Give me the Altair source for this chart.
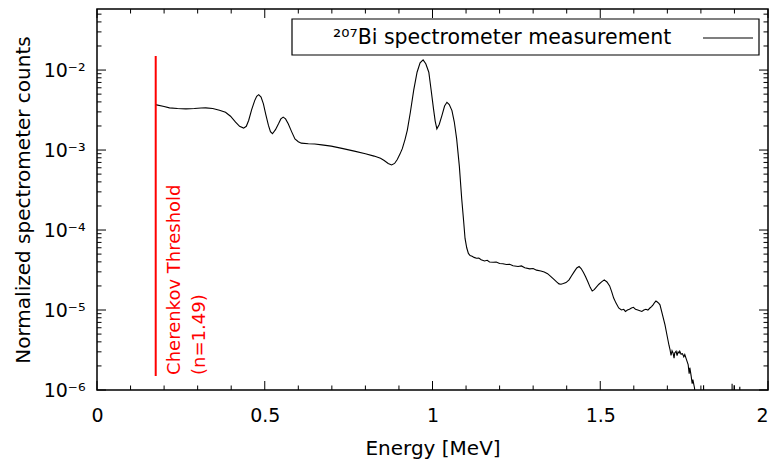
import altair as alt
import pandas as pd

# ---- spectrum ----
energy = [
    0.174, 0.200, 0.216, 0.240, 0.265, 0.290, 0.310, 0.324, 0.345, 0.365,
    0.383, 0.398, 0.413, 0.425, 0.437, 0.445, 0.452, 0.461, 0.470, 0.476,
    0.482, 0.489, 0.496, 0.503, 0.511, 0.517, 0.523, 0.532, 0.541, 0.548,
    0.555, 0.562, 0.570, 0.580, 0.590, 0.600, 0.609, 0.630, 0.649, 0.670,
    0.698, 0.730, 0.767, 0.800, 0.826, 0.845, 0.856, 0.868, 0.878, 0.887,
    0.895, 0.903, 0.910, 0.918, 0.925, 0.934, 0.944, 0.954, 0.963, 0.972,
    0.980, 0.989, 0.996, 1.003, 1.008, 1.013, 1.020, 1.028, 1.036, 1.043,
    1.050, 1.058, 1.065, 1.072, 1.080, 1.087, 1.093, 1.097, 1.102, 1.107,
    1.112, 1.118, 1.124, 1.131, 1.138, 1.145, 1.155, 1.163, 1.170, 1.181,
    1.190, 1.200, 1.210, 1.220, 1.230, 1.240, 1.255, 1.265, 1.275, 1.290,
    1.300, 1.310, 1.323, 1.333, 1.343, 1.353, 1.362, 1.370, 1.377, 1.383,
    1.390, 1.398, 1.407, 1.415, 1.422, 1.430, 1.437, 1.443, 1.450, 1.456,
    1.463, 1.470, 1.476, 1.482, 1.489, 1.496, 1.504, 1.512, 1.520, 1.528,
    1.534, 1.540, 1.547, 1.555, 1.563, 1.570, 1.575, 1.581, 1.587, 1.593,
    1.599, 1.605, 1.612, 1.618, 1.624, 1.630, 1.636, 1.642, 1.648, 1.653,
    1.658, 1.662, 1.666, 1.670, 1.674, 1.678, 1.685, 1.693, 1.700, 1.705,
    1.708, 1.711, 1.714, 1.717, 1.720, 1.722, 1.726, 1.729, 1.732, 1.735,
    1.737, 1.741, 1.745, 1.749, 1.752, 1.757, 1.762, 1.765, 1.767, 1.771,
    1.774, 1.776, 1.781, 1.786, 1.800, 1.806, 1.808, 1.810, 1.891, 1.893,
    1.895, 1.899, 1.901, 1.916, 1.918, 2.000,
]
counts = [
    3.70e-3, 3.50e-3, 3.37e-3, 3.30e-3, 3.27e-3, 3.30e-3, 3.35e-3, 3.37e-3, 3.30e-3, 3.15e-3,
    2.97e-3, 2.65e-3, 2.23e-3, 1.98e-3, 1.88e-3, 1.98e-3, 2.34e-3, 3.20e-3, 4.15e-3, 4.70e-3,
    4.93e-3, 4.60e-3, 3.78e-3, 2.80e-3, 2.03e-3, 1.70e-3, 1.60e-3, 1.80e-3, 2.13e-3, 2.45e-3,
    2.58e-3, 2.45e-3, 2.13e-3, 1.70e-3, 1.38e-3, 1.27e-3, 1.22e-3, 1.20e-3, 1.19e-3, 1.16e-3,
    1.12e-3, 1.05e-3, 9.70e-4, 9.00e-4, 8.40e-4, 7.90e-4, 7.40e-4, 6.80e-4, 6.50e-4, 6.80e-4,
    7.60e-4, 8.90e-4, 1.04e-3, 1.35e-3, 1.78e-3, 2.97e-3, 5.60e-3, 9.40e-3, 1.23e-2, 1.34e-2,
    1.20e-2, 9.40e-3, 5.60e-3, 3.27e-3, 2.30e-3, 1.84e-3, 2.09e-3, 2.70e-3, 3.55e-3, 3.95e-3,
    3.70e-3, 3.11e-3, 2.24e-3, 1.38e-3, 6.30e-4, 2.48e-4, 1.26e-4, 7.85e-5, 6.00e-5, 5.10e-5,
    4.80e-5, 4.70e-5, 4.55e-5, 4.43e-5, 4.45e-5, 4.25e-5, 4.10e-5, 4.18e-5, 3.98e-5, 3.95e-5,
    3.99e-5, 3.82e-5, 3.78e-5, 3.70e-5, 3.74e-5, 3.58e-5, 3.50e-5, 3.56e-5, 3.38e-5, 3.27e-5,
    3.30e-5, 3.15e-5, 3.08e-5, 2.98e-5, 2.85e-5, 2.62e-5, 2.42e-5, 2.25e-5, 2.12e-5, 2.10e-5,
    2.14e-5, 2.20e-5, 2.38e-5, 2.70e-5, 3.00e-5, 3.35e-5, 3.50e-5, 3.30e-5, 2.95e-5, 2.62e-5,
    2.25e-5, 1.92e-5, 1.73e-5, 1.80e-5, 1.95e-5, 2.10e-5, 2.25e-5, 2.38e-5, 2.24e-5, 2.00e-5,
    1.70e-5, 1.41e-5, 1.22e-5, 1.06e-5, 1.00e-5, 1.02e-5, 9.60e-6, 1.00e-5, 1.02e-5, 1.06e-5,
    1.08e-5, 1.02e-5, 1.00e-5, 9.80e-6, 9.60e-6, 1.00e-5, 1.02e-5, 1.00e-5, 1.06e-5, 1.10e-5,
    1.17e-5, 1.24e-5, 1.30e-5, 1.26e-5, 1.22e-5, 1.16e-5, 8.90e-6, 6.50e-6, 4.60e-6, 3.60e-6,
    3.20e-6, 2.70e-6, 3.10e-6, 2.90e-6, 2.50e-6, 2.90e-6, 3.05e-6, 2.70e-6, 3.00e-6, 2.90e-6,
    3.05e-6, 2.80e-6, 2.85e-6, 2.60e-6, 2.77e-6, 2.40e-6, 2.08e-6, 1.60e-6, 1.90e-6, 1.49e-6,
    1.20e-6, 1.35e-6, 1.06e-6, 5.00e-7, 1.00e-8, 1.00e-8, 1.15e-6, 1.00e-8, 1.00e-8, 1.20e-6,
    1.00e-8, 1.15e-6, 1.00e-8, 1.10e-6, 1.00e-8, 1.00e-8,
]
series_name = ["²⁰⁷Bi spectrometer measurement"]

threshold_energy = [0.175]
threshold_low = [1.5e-6]
threshold_high = [1.5e-2]
threshold_text = ["Cherenkov Threshold\n(n=1.49)"]

x_label_values = [0, 0.5, 1, 1.5, 2]
x_minor_values = [0.1, 0.2, 0.3, 0.4, 0.6, 0.7, 0.8, 0.9,
                  1.1, 1.2, 1.3, 1.4, 1.6, 1.7, 1.8, 1.9]
y_label_values = [1e-6, 1e-5, 1e-4, 1e-3, 1e-2]
y_minor_values = [
    2e-6, 3e-6, 4e-6, 5e-6, 6e-6, 7e-6, 8e-6, 9e-6,
    2e-5, 3e-5, 4e-5, 5e-5, 6e-5, 7e-5, 8e-5, 9e-5,
    2e-4, 3e-4, 4e-4, 5e-4, 6e-4, 7e-4, 8e-4, 9e-4,
    2e-3, 3e-3, 4e-3, 5e-3, 6e-3, 7e-3, 8e-3, 9e-3,
    2e-2, 3e-2, 4e-2, 5e-2,
]

W, H = 671, 381
FONT = "DejaVu Sans"
MAJOR, MINOR = 9, 4.5

spec_df = pd.DataFrame({"energy": energy, "counts": counts,
                        "series": series_name * len(energy)})
thr_df = pd.DataFrame({"energy": threshold_energy, "low": threshold_low,
                       "high": threshold_high, "label": threshold_text})
xmaj_df = pd.DataFrame({"energy": x_label_values})
xmin_df = pd.DataFrame({"energy": x_minor_values})
ymaj_df = pd.DataFrame({"counts": y_label_values})
ymin_df = pd.DataFrame({"counts": y_minor_values})

xscale = alt.Scale(domain=[0, 2], nice=False, zero=False)
yscale = alt.Scale(type="log", domain=[1e-6, 0.058], nice=False)

# one shared axis definition per channel, used by every layer
xaxis = alt.Axis(values=x_label_values, labelExpr="'' + datum.value",
                 ticks=False, domain=False, grid=False, labelFlush=False,
                 labelAlign={"condition": {"test": "datum.value >= 2", "value": "right"},
                             "value": "center"},
                 labelFontSize=19, labelPadding=16, labelColor="black",
                 title="Energy [MeV]", titleFontSize=20,
                 titleFontWeight="normal", titlePadding=13, titleColor="black")
yaxis = alt.Axis(values=y_label_values,
                 labelExpr="'10⁻' + ['⁰','¹','²','³','⁴','⁵','⁶','⁷'][round(-log(datum.value)/LN10)]",
                 ticks=False, domain=False, grid=False, labelFlush=False,
                 labelFontSize=19, labelPadding=12, labelColor="black",
                 title="Normalized spectrometer counts", titleFontSize=20,
                 titleFontWeight="normal", titlePadding=10, titleColor="black")


def X(field):
    return alt.X(field, type="quantitative", scale=xscale, axis=xaxis, title="Energy [MeV]")


def Y(field):
    return alt.Y(field, type="quantitative", scale=yscale, axis=yaxis,
                 title="Normalized spectrometer counts")


# legend frame (gnuplot-style key box)
key_box = alt.Chart(thr_df).mark_rect(fill="white", stroke="black", strokeWidth=1.2).encode(
    x=alt.value(195), x2=alt.value(662), y=alt.value(10), y2=alt.value(46),
)

# spectrum + legend
line = alt.Chart(spec_df).mark_line(color="black", strokeWidth=1.1, clip=True).encode(
    x=X("energy"),
    y=Y("counts"),
    color=alt.Color("series:N", scale=alt.Scale(range=["black"]),
                    legend=alt.Legend(title=series_name[0], titleOrient="left",
                                      titleFontSize=20.5, titleFontWeight="normal",
                                      titleColor="black", titlePadding=30,
                                      titleLimit=1000, titleBaseline="top",
                                      labelExpr="''", labelOffset=0, labelLimit=1,
                                      symbolType="stroke", symbolSize=2500,
                                      symbolStrokeWidth=1.1, symbolStrokeColor="black",
                                      orient="none", legendX=231, legendY=-2,
                                      padding=5)),
)

# threshold line and label
rule = alt.Chart(thr_df).mark_rule(color="#ff0000", strokeWidth=2).encode(
    x=X("energy"), y=Y("low"), y2="high:Q",
)
text = alt.Chart(thr_df).mark_text(
    color="#ff0000", font=FONT, fontSize=18, angle=270, align="left",
    baseline="top", lineBreak="\n", lineHeight=25, dx=1, dy=10,
).encode(
    x=X("energy"), y=Y("low"), text="label:N",
)


# inward gnuplot-style ticks on all four sides
def xticks(df, y0, y1):
    return alt.Chart(df).mark_rule(color="black", strokeWidth=1).encode(
        x=X("energy"), y=alt.value(y0), y2=alt.value(y1))


def yticks(df, x0, x1):
    return alt.Chart(df).mark_rule(color="black", strokeWidth=1).encode(
        y=Y("counts"), x=alt.value(x0), x2=alt.value(x1))


tick_layers = [
    xticks(xmaj_df, H, H - MAJOR), xticks(xmin_df, H, H - MINOR),
    xticks(xmaj_df, 0, MAJOR), xticks(xmin_df, 0, MINOR),
    yticks(ymaj_df, 0, MAJOR), yticks(ymin_df, 0, MINOR),
    yticks(ymaj_df, W, W - MAJOR), yticks(ymin_df, W, W - MINOR),
]

chart = alt.layer(key_box, line, rule, text, *tick_layers).properties(
    width=W, height=H,
    autosize=alt.AutoSizeParams(type="none"),
    padding={"left": 89, "top": 1, "right": 2, "bottom": 69},
).configure_view(stroke="black", strokeWidth=1.5).configure_axis(
    labelFont=FONT, titleFont=FONT,
).configure_legend(labelFont=FONT, titleFont=FONT)

chart.save("out.html", embed_options={"renderer": "svg", "actions": False})
